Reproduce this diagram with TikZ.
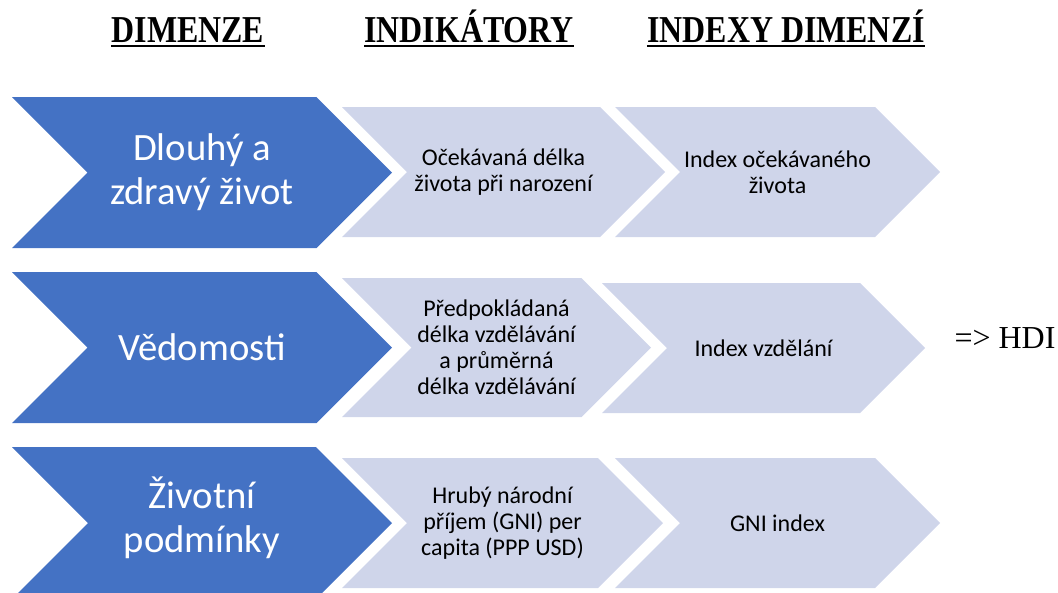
\documentclass[tikz,border=0pt]{standalone}
\usepackage{fontspec}
\setmainfont{Carlito}
\newfontfamily\timesfont{Liberation Serif}
\newfontfamily\headfont[FakeStretch=0.84]{Liberation Serif}

\definecolor{dimblue}{HTML}{4472C4}
\definecolor{indgray}{HTML}{CFD5EA}

\tikzset{
    dimarrow/.style={fill=dimblue},
    indarrow/.style={fill=indgray},
    dimtext/.style={text=white, align=center, font=\fontsize{29}{33}\selectfont},
    indtext/.style={text=black, align=center, font=\fontsize{18}{19.5}\selectfont},
    header/.style={inner sep=0pt, anchor=base, font=\headfont\bfseries\fontsize{28.5}{30}\selectfont},
    headline/.style={line width=2.2pt},
}

% chevron: left x, top y, bottom y, tip x, style
\newcommand{\chev}[5]{%
    \pgfmathsetmacro{\chh}{(#3-#2)/2}%
    \pgfmathsetmacro{\chm}{(#3+#2)/2}%
    \fill[#5] (#1,#2) -- (#4-\chh,#2) -- (#4,\chm) -- (#4-\chh,#3) -- (#1,#3) -- (#1+\chh,\chm) -- cycle;
}

\begin{document}
\begin{tikzpicture}[x=0.75pt,y=-0.75pt]
    \useasboundingbox (0,0) rectangle (1058,593);

    %headers
    \node[header] (hdim) at (188,42) {DIMENZE};
    \node[header] (hind) at (469,42) {INDIKÁTORY};
    \node[header] (hidx) at (786,42) {INDEXY DIMENZÍ};
    \draw[headline] ([yshift=-3pt]hdim.base west) -- ([yshift=-3pt]hdim.base east);
    \draw[headline] ([yshift=-3pt]hind.base west) -- ([yshift=-3pt]hind.base east);
    \draw[headline] ([yshift=-3pt]hidx.base west) -- ([yshift=-3pt]hidx.base east);

    %row 1
    \chev{12}{97}{248}{392}{dimarrow}
    \chev{342}{107}{237}{665}{indarrow}
    \chev{615}{107}{237}{940}{indarrow}
    \node[dimtext] (dim1) at (202,172.5) {Dlouhý a\\zdravý život};
    \node[indtext] (ind1) at (503.5,172) {Očekávaná délka\\života při narození};
    \node[indtext] (idx1) at (777.5,172) {Index očekávaného\\života};

    %row 2
    \chev{12}{272}{423}{392}{dimarrow}
    \chev{342}{278}{417}{651}{indarrow}
    \chev{602}{283}{413}{925}{indarrow}
    \node[dimtext] (dim2) at (202,347.5) {Vědomosti};
    \node[indtext] (ind2) at (496.5,347.5) {Předpokládaná\\délka vzdělávání\\a průměrná\\délka vzdělávání};
    \node[indtext] (idx2) at (763.5,348) {Index vzdělání};

    %row 3
    \chev{12}{447}{599}{392}{dimarrow}
    \chev{342}{458}{588}{663}{indarrow}
    \chev{615}{458}{588}{940}{indarrow}
    \node[dimtext] (dim3) at (202,518) {Životní\\podmínky};
    \node[indtext] (ind3) at (502.5,523) {Hrubý národní\\příjem (GNI) per\\capita (PPP USD)};
    \node[indtext] (idx3) at (777.5,523) {GNI index};

    %result
    \node[font=\timesfont\fontsize{24}{26}\selectfont, inner sep=0pt] (hdi) at (1005,338) {=> HDI};

\end{tikzpicture}
\end{document}
